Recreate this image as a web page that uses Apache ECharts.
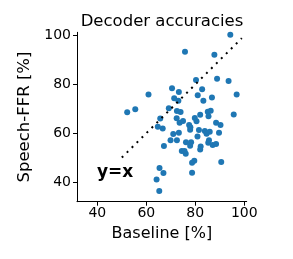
<!DOCTYPE html>
<html>
<head>
<meta charset="utf-8">
<script src="https://cdn.jsdelivr.net/npm/echarts@6/dist/echarts.min.js"></script>
<style>html,body{margin:0;padding:0;background:#fff}#c{width:293px;height:259px}</style>
</head>
<body>
<div id="c"></div>
<script>
// Baseline accuracy [%] (x) and Speech-FFR accuracy [%] (y)
var baseline = [94.3,75.8,87.8,80.3,88.9,93.6,70.5,73.3,82.8,60.9,96.9,81.0,86.8,71.4,73.1,83.3,55.5,52.2,69.2,72.5,74.0,85.1,86.3,82.0,95.7,85.4,65.7,72.4,79.8,80.5,73.6,75.0,88.5,90.3,64.7,66.7,77.5,78.0,77.9,81.5,83.9,85.9,84.6,89.7,71.0,73.3,80.9,85.6,85.3,69.9,72.5,76.2,78.3,67.2,77.9,82.2,82.0,87.1,88.5,74.5,76.1,75.6,79.6,78.7,90.6,65.4,67.0,78.7,64.2,65.3];
var speechFFR = [100.4,93.4,92.2,81.8,82.3,81.4,78.4,76.9,78.0,75.9,75.9,75.6,74.7,74.3,73.3,73.3,69.8,68.6,70.2,69.1,68.7,68.8,69.2,67.6,67.7,67.0,66.0,66.1,66.2,64.9,64.3,65.0,64.3,63.4,62.7,61.9,63.4,62.4,61.4,61.3,60.9,60.6,59.8,60.2,59.7,60.2,58.6,57.1,56.1,57.1,57.1,56.3,56.3,54.8,54.9,54.5,53.3,55.2,55.6,52.7,51.6,52.7,48.7,47.9,48.2,45.7,43.7,43.8,41.0,36.3];
var identityLine = [50, 99];
var xTicks = [40, 60, 80, 100];
var yTicks = [40, 60, 80, 100];

var pts = baseline.map(function (v, i) { return [v, speechFFR[i]]; });
var linePts = identityLine.map(function (v) { return [v, v]; });
var FONT = 'DejaVu Sans';
var chart = echarts.init(document.getElementById('c'));
chart.setOption({
  animation: false,
  backgroundColor: '#fff',
  grid: { left: 77, right: 46.3, top: 32.3, bottom: 57.3 },
  xAxis: {
    type: 'value', min: 31.7, max: 101,
    name: 'Baseline [%]', nameLocation: 'middle', nameGap: 22,
    nameTextStyle: { fontFamily: FONT, fontSize: 16, color: '#000' },
    axisLine: { lineStyle: { color: '#000', width: 1 } },
    axisTick: { show: true, length: 4, customValues: xTicks, lineStyle: { color: '#000' } },
    axisLabel: { customValues: xTicks, margin: 5, fontFamily: FONT, fontSize: 14, color: '#000' },
    splitLine: { show: false }
  },
  yAxis: {
    type: 'value', min: 31.9, max: 101.4,
    name: 'Speech-FFR [%]', nameLocation: 'middle', nameGap: 30,
    nameTextStyle: { fontFamily: FONT, fontSize: 16.5, color: '#000' },
    axisLine: { show: true, lineStyle: { color: '#000', width: 1 } },
    axisTick: { show: true, length: 4, customValues: yTicks, lineStyle: { color: '#000' } },
    axisLabel: { customValues: yTicks, margin: 6, fontFamily: FONT, fontSize: 14, color: '#000' },
    splitLine: { show: false }
  },
  series: [
    {
      type: 'line', data: linePts, symbol: 'none', z: 3,
      lineStyle: { color: '#000', width: 2, type: [2, 5], cap: 'butt' }
    },
    {
      type: 'scatter', data: pts, symbolSize: 6, z: 2,
      itemStyle: { color: '#1f77b4', opacity: 1 }
    }
  ],
  graphic: [
    {
      type: 'text', x: 162, y: 30,
      style: { text: 'Decoder accuracies', font: '16.5px "DejaVu Sans"', fill: '#000', textAlign: 'center', textVerticalAlign: 'bottom' }
    },
    {
      type: 'text', left: 97, top: 164,
      style: { text: 'y=x', font: 'bold 17px "DejaVu Sans"', fill: '#000' }
    }
  ]
});
</script>
</body>
</html>
